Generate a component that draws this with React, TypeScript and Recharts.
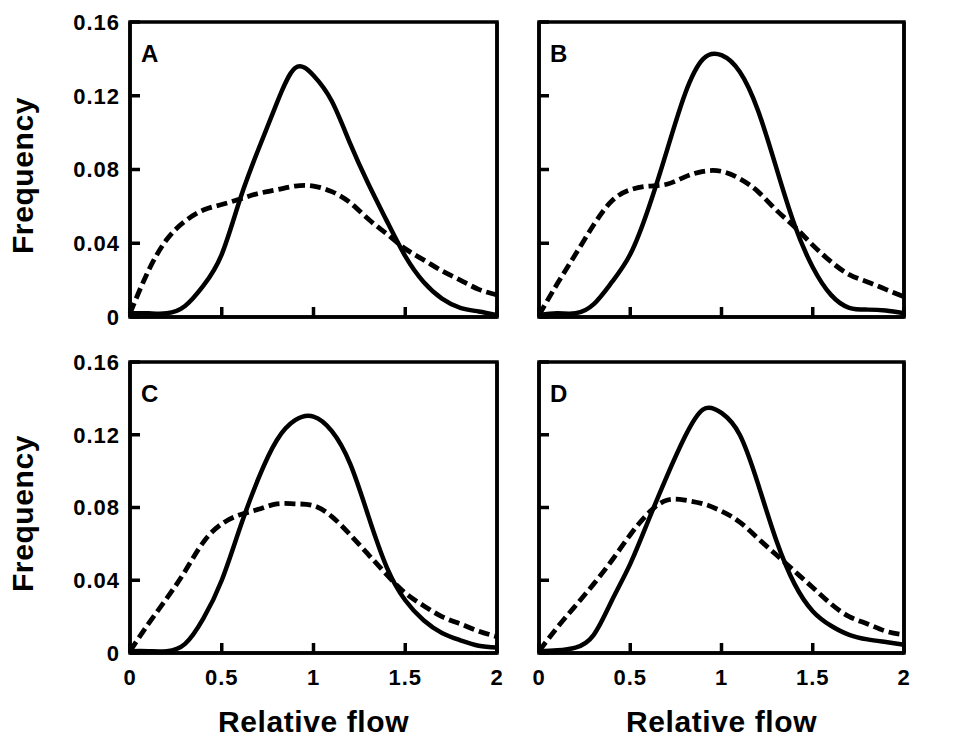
import { LineChart, Line, XAxis, YAxis, ReferenceArea } from 'recharts';

const FONT = '"Liberation Sans", Arial, Helvetica, sans-serif';

// relative flow grid shared by all four panels
const FLOW = [0, 0.1, 0.2, 0.3, 0.4, 0.5, 0.6, 0.7, 0.8, 0.9, 1, 1.1, 1.2, 1.3, 1.4, 1.5, 1.6, 1.7, 1.8, 1.9, 2];

const A_SOLID = [0.002, 0.002, 0.002, 0.006, 0.017, 0.034, 0.064, 0.091, 0.116, 0.135, 0.131, 0.117, 0.094, 0.072, 0.052, 0.033, 0.019, 0.01, 0.005, 0.003, 0.001];
const A_DASHED = [0.002, 0.025, 0.042, 0.052, 0.058, 0.061, 0.064, 0.067, 0.069, 0.071, 0.071, 0.068, 0.062, 0.053, 0.045, 0.037, 0.031, 0.025, 0.02, 0.015, 0.012];

const B_SOLID = [0.001, 0.002, 0.002, 0.007, 0.019, 0.034, 0.059, 0.09, 0.121, 0.14, 0.142, 0.133, 0.112, 0.081, 0.05, 0.027, 0.012, 0.005, 0.004, 0.0035, 0.002];
const B_DASHED = [0.001, 0.018, 0.034, 0.05, 0.063, 0.069, 0.071, 0.072, 0.076, 0.079, 0.079, 0.075, 0.068, 0.058, 0.049, 0.039, 0.03, 0.023, 0.019, 0.015, 0.011];

const C_SOLID = [0.001, 0.001, 0.001, 0.005, 0.019, 0.04, 0.069, 0.096, 0.117, 0.128, 0.13, 0.122, 0.104, 0.075, 0.047, 0.029, 0.018, 0.011, 0.007, 0.004, 0.003];
const C_DASHED = [0.001, 0.016, 0.03, 0.045, 0.061, 0.071, 0.076, 0.079, 0.082, 0.082, 0.081, 0.075, 0.065, 0.054, 0.043, 0.033, 0.026, 0.02, 0.016, 0.012, 0.009];

const D_SOLID = [0.001, 0.0015, 0.003, 0.01, 0.029, 0.049, 0.073, 0.097, 0.119, 0.134, 0.132, 0.12, 0.093, 0.062, 0.038, 0.023, 0.015, 0.01, 0.0075, 0.006, 0.0045];
const D_DASHED = [0.001, 0.014, 0.026, 0.038, 0.051, 0.065, 0.077, 0.084, 0.084, 0.082, 0.078, 0.072, 0.063, 0.054, 0.045, 0.036, 0.027, 0.02, 0.016, 0.012, 0.01];

const X_TICKS = [0, 0.5, 1, 1.5, 2];
const Y_TICKS = [0, 0.04, 0.08, 0.12, 0.16];

const build = (solid: number[], dashed: number[]) =>
  FLOW.map((flow, i) => ({ flow, solid: solid[i], dashed: dashed[i] }));

const AXIS_LINE = { stroke: '#000', strokeWidth: 3.5 };
const TICK_LEN = 10;
const TEXT_STYLE = { fill: '#000', fontSize: 22, fontWeight: 700, fontFamily: FONT, letterSpacing: 1 };

// draws an inward tick mark plus (optionally) its label
const makeTick = (side: 'left' | 'right' | 'bottom', showText: boolean, gap: number) => (props: any) => {
  const { x, y, payload } = props;
  const label = String(payload.value);
  if (side === 'left') {
    const ax = x + gap;
    return (
      <g>
        <line x1={ax} x2={ax + TICK_LEN} y1={y} y2={y} stroke="#000" strokeWidth={3.5} />
        {showText && (
          <text x={x} y={y} dy="0.36em" textAnchor="end" {...TEXT_STYLE}>
            {label}
          </text>
        )}
      </g>
    );
  }
  if (side === 'right') {
    const ax = x - gap;
    return (
      <g>
        <line x1={ax} x2={ax - TICK_LEN} y1={y} y2={y} stroke="#000" strokeWidth={3.5} />
        {showText && (
          <text x={x} y={y} dy="0.36em" textAnchor="start" {...TEXT_STYLE}>
            {label}
          </text>
        )}
      </g>
    );
  }
  const ay = y - gap;
  return (
    <g>
      <line x1={x} x2={x} y1={ay} y2={ay - TICK_LEN} stroke="#000" strokeWidth={3.5} />
      {showText && (
        <text x={x} y={y} dy="0.72em" textAnchor="middle" {...TEXT_STYLE}>
          {label}
        </text>
      )}
    </g>
  );
};

const panelLetter = (letter: string) => (props: any) => {
  const { x, y } = props.viewBox;
  return (
    <text x={x + 11} y={y + 40} fill="#000" fontSize={24} fontWeight={700} fontFamily={FONT}>
      {letter}
    </text>
  );
};

const frequencyLabel = (props: any) => {
  const { y, height } = props.viewBox;
  const cy = y + height / 2 + 6;
  return (
    <text
      x={33}
      y={cy}
      transform={`rotate(-90, 33, ${cy})`}
      textAnchor="middle"
      fill="#000"
      fontSize={30}
      fontWeight={700}
      fontFamily={FONT}
      letterSpacing={0.6}
    >
      Frequency
    </text>
  );
};

const flowLabel = (props: any) => {
  const { x, y, width } = props.viewBox;
  return (
    <text
      x={x + width / 2}
      y={y + 79}
      textAnchor="middle"
      fill="#000"
      fontSize={30}
      fontWeight={700}
      fontFamily={FONT}
      letterSpacing={0.6}
    >
      Relative flow
    </text>
  );
};

interface PanelProps {
  letter: string;
  data: { flow: number; solid: number; dashed: number }[];
  left: number;
  top: number;
  bottomRow: boolean;
  rightCol: boolean;
}

function Panel({ letter, data, left, top, bottomRow, rightCol }: PanelProps) {
  const width = rightCol ? 446 : 520;
  const height = bottomRow ? 404 : 330;
  return (
    <div style={{ position: 'absolute', left, top }}>
      <LineChart
        width={width}
        height={height}
        data={data}
        margin={{ top: bottomRow ? 27 : 22, right: rightCol ? 0 : 13, bottom: 0, left: 0 }}
      >
        <XAxis
          dataKey="flow"
          type="number"
          domain={[0, 2]}
          ticks={X_TICKS}
          interval={0}
          height={bottomRow ? 86 : 13}
          axisLine={AXIS_LINE}
          tickLine={false}
          tickSize={0}
          tickMargin={16}
          tick={makeTick('bottom', bottomRow, 16)}
          label={bottomRow ? flowLabel : undefined}
        />
        <YAxis
          yAxisId="left"
          orientation="left"
          type="number"
          domain={[0, 0.16]}
          ticks={Y_TICKS}
          interval={0}
          width={rightCol ? 19 : 130}
          axisLine={AXIS_LINE}
          tickLine={false}
          tickSize={0}
          tickMargin={10}
          tick={makeTick('left', !rightCol, 10)}
          label={rightCol ? undefined : frequencyLabel}
        />
        <YAxis
          yAxisId="right"
          orientation="right"
          type="number"
          domain={[0, 0.16]}
          ticks={Y_TICKS}
          interval={0}
          width={rightCol ? 62 : 10}
          axisLine={AXIS_LINE}
          tickLine={false}
          tickSize={0}
          tickMargin={11}
          tick={makeTick('right', rightCol, 11)}
        />
        <ReferenceArea
          yAxisId="left"
          x1={0}
          x2={2}
          y1={0}
          y2={0.16}
          fill="none"
          stroke="#000"
          strokeWidth={3.5}
          label={panelLetter(letter)}
        />
        <Line
          yAxisId="left"
          dataKey="dashed"
          type="natural"
          stroke="#000"
          strokeWidth={4.8}
          strokeDasharray="11 5"
          dot={false}
          isAnimationActive={false}
        />
        <Line
          yAxisId="left"
          dataKey="solid"
          type="natural"
          stroke="#000"
          strokeWidth={4.5}
          dot={false}
          isAnimationActive={false}
        />
      </LineChart>
    </div>
  );
}

export default function App() {
  return (
    <div style={{ position: 'absolute', left: 0, top: 0, width: 966, height: 739, background: '#fff' }}>
      <Panel letter="A" data={build(A_SOLID, A_DASHED)} left={0} top={0} bottomRow={false} rightCol={false} />
      <Panel letter="B" data={build(B_SOLID, B_DASHED)} left={520} top={0} bottomRow={false} rightCol={true} />
      <Panel letter="C" data={build(C_SOLID, C_DASHED)} left={0} top={335} bottomRow={true} rightCol={false} />
      <Panel letter="D" data={build(D_SOLID, D_DASHED)} left={520} top={335} bottomRow={true} rightCol={true} />
    </div>
  );
}
